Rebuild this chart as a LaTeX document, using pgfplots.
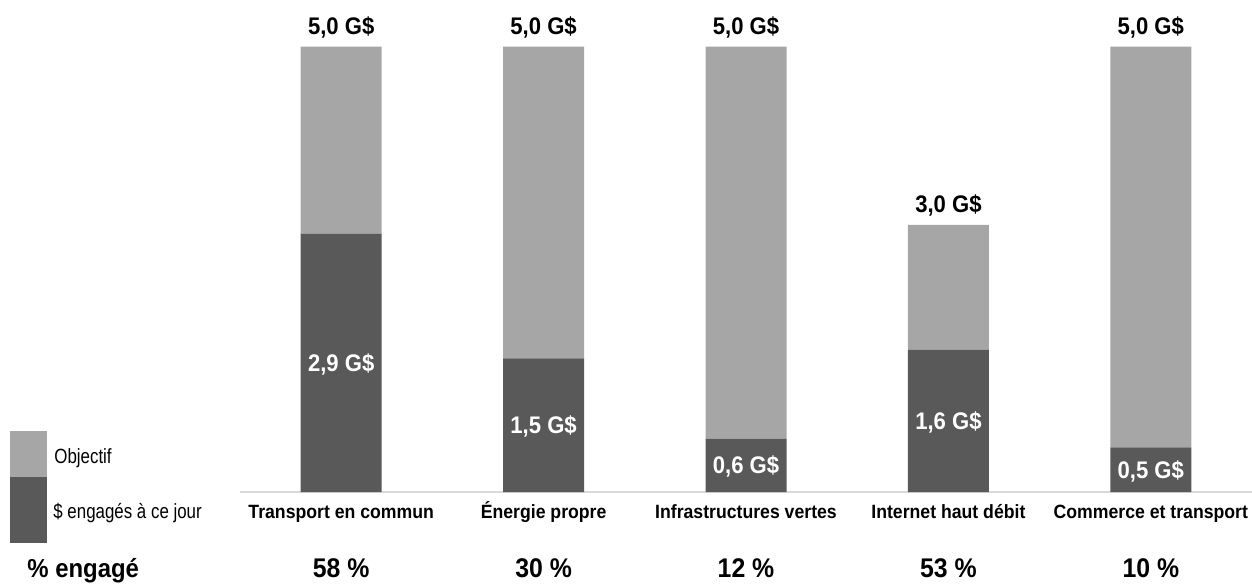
\documentclass[border=0pt]{standalone}
\usepackage{fontspec}
\setmainfont{Liberation Sans}[FakeStretch=0.82]
\newfontfamily\bnar{Liberation Sans}[FakeStretch=0.92]
\usepackage{pgfplots}
\pgfplotsset{compat=1.18}
\definecolor{objgray}{HTML}{A6A6A6}
\definecolor{enggray}{HTML}{595959}
\definecolor{axgray}{HTML}{D9D9D9}
\begin{document}
\begin{tikzpicture}
\useasboundingbox (0,0) rectangle (626pt,292pt);
\begin{axis}[at={(120pt,46pt)}, anchor=south west, scale only axis,
  width=506pt, height=236pt,
  xmin=-0.5, xmax=4.5, ymin=0, ymax=5.3,
  ybar stacked, bar width=40.5pt,
  axis x line*=bottom, hide y axis,
  x axis line style={draw=axgray, line width=1pt, -},
  xtick=\empty, ytick=\empty, clip=false]
\addplot[fill=enggray, draw=none] coordinates {(0,2.9)(1,1.5)(2,0.6)(3,1.6)(4,0.5)};
\addplot[fill=objgray, draw=none] coordinates {(0,2.1)(1,3.5)(2,4.4)(3,1.4)(4,4.5)};
\coordinate (i0) at (axis cs:0,1.45);
\coordinate (i1) at (axis cs:1,0.75);
\coordinate (i2) at (axis cs:2,0.3);
\coordinate (i3) at (axis cs:3,0.8);
\coordinate (i4) at (axis cs:4,0.25);
\coordinate (t0) at (axis cs:0,5);
\coordinate (t1) at (axis cs:1,5);
\coordinate (t2) at (axis cs:2,5);
\coordinate (t3) at (axis cs:3,3);
\coordinate (t4) at (axis cs:4,5);
\coordinate (b0) at (axis cs:0,0);
\coordinate (b1) at (axis cs:1,0);
\coordinate (b2) at (axis cs:2,0);
\coordinate (b3) at (axis cs:3,0);
\coordinate (b4) at (axis cs:4,0);
\end{axis}
\tikzset{tot/.style={font=\bnar\bfseries\fontsize{12}{12}\selectfont, anchor=base, inner sep=0pt, yshift=6pt},
  inl/.style={font=\bnar\bfseries\fontsize{12}{12}\selectfont, anchor=base, inner sep=0pt, yshift=-4.3pt, text=white},
  cat/.style={font=\bnar\bfseries\fontsize{9.6}{9.6}\selectfont, anchor=base, inner sep=0pt, yshift=-13pt},
  pct/.style={font=\bnar\bfseries\fontsize{13.5}{13.5}\selectfont, anchor=base, inner sep=0pt, yshift=-42.5pt}}
\node[tot] at (t0) {5,0 G\$};
\node[tot] at (t1) {5,0 G\$};
\node[tot] at (t2) {5,0 G\$};
\node[tot] at (t3) {3,0 G\$};
\node[tot] at (t4) {5,0 G\$};
\node[inl] at (i0) {2,9 G\$};
\node[inl] at (i1) {1,5 G\$};
\node[inl] at (i2) {0,6 G\$};
\node[inl] at (i3) {1,6 G\$};
\node[inl] at (i4) {0,5 G\$};
\node[cat] at (b0) {Transport en commun};
\node[cat] at (b1) {Énergie propre};
\node[cat] at (b2) {Infrastructures vertes};
\node[cat] at (b3) {Internet haut débit};
\node[cat] at (b4) {Commerce et transport};
\node[pct] at (b0) {58 \%};
\node[pct] at (b1) {30 \%};
\node[pct] at (b2) {12 \%};
\node[pct] at (b3) {53 \%};
\node[pct] at (b4) {10 \%};
\fill[objgray] (5pt,53.5pt) rectangle (23.5pt,76.5pt);
\fill[enggray] (5pt,20.5pt) rectangle (23.5pt,53.5pt);
\node[anchor=base west, inner sep=0pt, font=\fontsize{10.3}{10.3}\selectfont] at (27pt,60.5pt) {Objectif};
\node[anchor=base west, inner sep=0pt, font=\fontsize{10.3}{10.3}\selectfont] at (26.5pt,33pt) {\$ engagés à ce jour};
\node[anchor=base west, inner sep=0pt, font=\bnar\bfseries\fontsize{13}{13}\selectfont] at (13.5pt,3.5pt) {\% engagé};
\end{tikzpicture}
\end{document}
